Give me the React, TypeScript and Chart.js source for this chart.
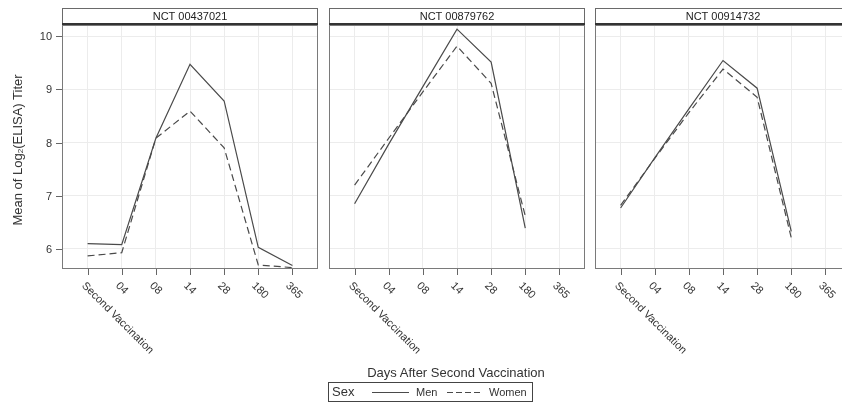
import React, { useEffect, useRef } from "react";
import { Chart, registerables } from "chart.js";
Chart.register(...registerables);

const categories = ["Second Vaccination", "04", "08", "14", "28", "180", "365"];
const panelTitles = ["NCT 00437021", "NCT 00879762", "NCT 00914732"];
const yTicks = [6, 7, 8, 9, 10];

const menP1 = [6.1, 6.08, 8.08, 9.47, 8.78, 6.03, 5.69];
const womenP1 = [5.87, 5.93, 8.08, 8.59, 7.9, 5.7, 5.65];
const menP2 = [6.85, 7.97, 9.05, 10.13, 9.51, 6.39, null];
const womenP2 = [7.2, 8.08, 8.95, 9.81, 9.11, 6.62, null];
const menP3 = [6.77, 7.71, 8.63, 9.54, 9.02, 6.33, null];
const womenP3 = [6.82, 7.7, 8.56, 9.38, 8.85, 6.21, null];

const W = 842;
const H = 409;
const CW = 870;
const PANEL_W = 256;
const TOP = 25;
const BOTTOM = 269;
const FONT = '"Liberation Sans", Arial, sans-serif';

const panels = [
  { title: panelTitles[0], men: menP1, women: womenP1, left: 62, showY: true },
  { title: panelTitles[1], men: menP2, women: womenP2, left: 329, showY: false },
  { title: panelTitles[2], men: menP3, women: womenP3, left: 595, showY: false },
];

function toPoints(arr: (number | null)[]) {
  return arr.map((y, i) => ({ x: i, y }));
}

function makePlugin(title: string, showY: boolean) {
  return {
    id: "panelDeco",
    afterDraw(chart: any) {
      const ctx = chart.ctx as CanvasRenderingContext2D;
      const a = chart.chartArea;
      const xs = chart.scales.x;
      const ys = chart.scales.y;
      ctx.save();
      // plot border
      ctx.strokeStyle = "#7a7a7a";
      ctx.lineWidth = 1;
      ctx.strokeRect(a.left + 0.5, a.top + 0.5, a.right - a.left - 1, a.bottom - a.top - 1);
      // header strip
      ctx.fillStyle = "#ffffff";
      ctx.fillRect(a.left, 8, a.right - a.left, a.top - 8);
      ctx.strokeStyle = "#6a6a6a";
      ctx.strokeRect(a.left + 0.5, 8.5, a.right - a.left - 1, a.top - 9);
      ctx.strokeStyle = "#333333";
      ctx.lineWidth = 2;
      ctx.beginPath();
      ctx.moveTo(a.left, a.top - 1);
      ctx.lineTo(a.right, a.top - 1);
      ctx.stroke();
      ctx.fillStyle = "#222222";
      ctx.font = `11px ${FONT}`;
      ctx.textAlign = "center";
      ctx.textBaseline = "middle";
      ctx.fillText(title, (a.left + a.right) / 2, 16.5);
      // x ticks
      ctx.strokeStyle = "#666666";
      ctx.lineWidth = 1;
      categories.forEach((c, i) => {
        const x = Math.round(xs.getPixelForValue(i)) + 0.5;
        ctx.beginPath();
        ctx.moveTo(x, a.bottom);
        ctx.lineTo(x, a.bottom + 6);
        ctx.stroke();
        ctx.save();
        ctx.translate(x - 5, a.bottom + 15);
        ctx.rotate(Math.PI / 4);
        ctx.fillStyle = "#333333";
        ctx.font = `11px ${FONT}`;
        ctx.textAlign = "left";
        ctx.textBaseline = "middle";
        ctx.fillText(c, 0, 0);
        ctx.restore();
      });
      if (showY) {
        yTicks.forEach((v) => {
          const y = Math.round(ys.getPixelForValue(v)) + 0.5;
          ctx.beginPath();
          ctx.moveTo(a.left - 6, y);
          ctx.lineTo(a.left, y);
          ctx.stroke();
          ctx.fillStyle = "#333333";
          ctx.font = `11px ${FONT}`;
          ctx.textAlign = "right";
          ctx.textBaseline = "middle";
          ctx.fillText(String(v), a.left - 10, y);
        });
      }
      ctx.restore();
    },
  };
}

function Panel({ p }: { p: (typeof panels)[number] }) {
  const ref = useRef<HTMLCanvasElement>(null);
  useEffect(() => {
    if (!ref.current) return;
    const chart = new Chart(ref.current, {
      type: "line",
      data: {
        datasets: [
          {
            label: "Men",
            data: toPoints(p.men) as any,
            borderColor: "#4a4a4a",
            borderWidth: 1.2,
            pointRadius: 0,
            fill: false,
            tension: 0,
          },
          {
            label: "Women",
            data: toPoints(p.women) as any,
            borderColor: "#4a4a4a",
            borderWidth: 1.2,
            borderDash: [7, 4],
            pointRadius: 0,
            fill: false,
            tension: 0,
          },
        ],
      },
      options: {
        responsive: false,
        animation: false,
        devicePixelRatio: 1,
        layout: {
          padding: { left: p.left, right: CW - p.left - PANEL_W, top: TOP, bottom: H - BOTTOM },
        },
        plugins: { legend: { display: false }, tooltip: { enabled: false }, title: { display: false } },
        scales: {
          x: {
            type: "linear",
            min: -0.75,
            max: 6.75,
            afterBuildTicks: (s: any) => {
              s.ticks = categories.map((_, i) => ({ value: i }));
            },
            ticks: { display: false },
            grid: { color: "#ececec", drawTicks: false, lineWidth: 1 },
            border: { display: false },
          },
          y: {
            type: "linear",
            min: 5.624,
            max: 10.207,
            afterBuildTicks: (s: any) => {
              s.ticks = yTicks.map((v) => ({ value: v }));
            },
            ticks: { display: false },
            grid: { color: "#ececec", drawTicks: false, lineWidth: 1 },
            border: { display: false },
          },
        },
      },
      plugins: [makePlugin(p.title, p.showY)],
    });
    return () => chart.destroy();
  }, [p]);
  return (
    <canvas
      ref={ref}
      width={CW}
      height={H}
      style={{ position: "absolute", left: 0, top: 0, width: CW, height: H }}
    />
  );
}

export default function App() {
  return (
    <div
      style={{
        position: "absolute",
        left: 0,
        top: 0,
        width: W,
        height: H,
        overflow: "hidden",
        background: "#ffffff",
        fontFamily: FONT,
        color: "#333",
      }}
    >
      {panels.map((p) => (
        <Panel key={p.title} p={p} />
      ))}
      <div
        style={{
          position: "absolute",
          left: -132,
          top: 142,
          width: 300,
          height: 16,
          lineHeight: "16px",
          fontSize: 13,
          textAlign: "center",
          transform: "rotate(-90deg)",
          whiteSpace: "nowrap",
        }}
      >
        Mean of Log<sub style={{ fontSize: 8, verticalAlign: "-1px" }}>2</sub>(ELISA) Titer
      </div>
      <div
        style={{
          position: "absolute",
          left: 306,
          top: 365,
          width: 300,
          height: 16,
          lineHeight: "16px",
          fontSize: 13,
          textAlign: "center",
          whiteSpace: "nowrap",
        }}
      >
        Days After Second Vaccination
      </div>
      <div
        style={{
          position: "absolute",
          left: 328,
          top: 382,
          width: 203,
          height: 18,
          border: "1px solid #444",
          boxSizing: "content-box",
        }}
      >
        <span style={{ position: "absolute", left: 3, top: 1, fontSize: 13, lineHeight: "16px" }}>Sex</span>
        <svg style={{ position: "absolute", left: 0, top: 0 }} width={203} height={18}>
          <line x1={43} y1={9.5} x2={80} y2={9.5} stroke="#4a4a4a" strokeWidth={1.2} />
          <line x1={118} y1={9.5} x2={154} y2={9.5} stroke="#4a4a4a" strokeWidth={1.2} strokeDasharray="6,3" />
        </svg>
        <span style={{ position: "absolute", left: 87, top: 2, fontSize: 11, lineHeight: "15px" }}>Men</span>
        <span style={{ position: "absolute", left: 160, top: 2, fontSize: 11, lineHeight: "15px" }}>Women</span>
      </div>
    </div>
  );
}
